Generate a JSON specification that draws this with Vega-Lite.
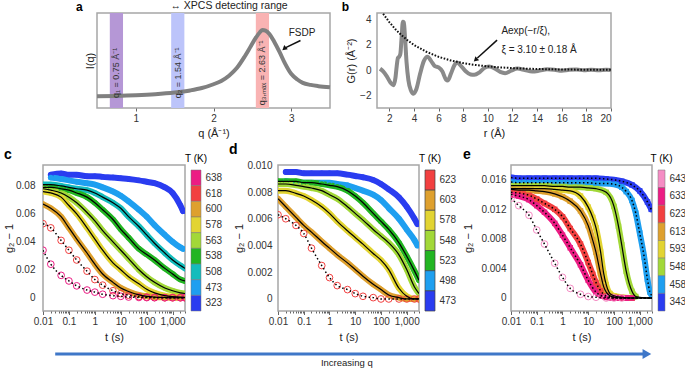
{
"$schema": "https://vega.github.io/schema/vega-lite/v6.json",
"padding": {"left": 2, "top": 0, "right": 0, "bottom": 0},
"autosize": {"type": "pad"},
"bounds": "flush",
"spacing": 152,
"resolve": {"scale": {"color": "independent"}},
"config": {
  "font": "Liberation Sans",
  "view": {"stroke": "#a6a6a6", "strokeWidth": 1.5},
  "axis": {"labelFontSize": 10, "titleFontSize": 11, "titleFontWeight": "normal", "labelColor": "#333", "titleColor": "#222", "tickColor": "#666", "domain": false, "grid": false, "tickSize": 3, "labelFont": "Liberation Sans", "titleFont": "Liberation Sans", "labelOverlap": false},
  "title": {"fontSize": 14, "fontWeight": "bold", "anchor": "start", "frame": "group", "baseline": "alphabetic", "offset": 3, "color": "#000", "font": "Liberation Sans"}
},
"datasets": {
  "sq": [{"q":0.5,"I":0.123},{"q":0.75,"I":0.127},{"q":1.0,"I":0.134},{"q":1.25,"I":0.145},{"q":1.5,"I":0.163},{"q":1.7,"I":0.185},{"q":1.85,"I":0.21},{"q":2.0,"I":0.25},{"q":2.1,"I":0.285},{"q":2.2,"I":0.34},{"q":2.3,"I":0.42},{"q":2.4,"I":0.54},{"q":2.48,"I":0.65},{"q":2.55,"I":0.745},{"q":2.6,"I":0.8},{"q":2.63,"I":0.822},{"q":2.67,"I":0.815},{"q":2.72,"I":0.78},{"q":2.78,"I":0.7},{"q":2.85,"I":0.59},{"q":2.92,"I":0.47},{"q":3.0,"I":0.36},{"q":3.08,"I":0.3},{"q":3.15,"I":0.265},{"q":3.25,"I":0.243},{"q":3.35,"I":0.23},{"q":3.5,"I":0.218}],
  "bands": [{"name":"q₁","q":0.75,"lo":0.665,"hi":0.835,"label":"q₁ = 0.75 Å⁻¹"},{"name":"q₂","q":1.54,"lo":1.455,"hi":1.625,"label":"q₂ = 1.54 Å⁻¹"},{"name":"q₃,ₘₐₓ","q":2.63,"lo":2.545,"hi":2.715,"label":"q₃,ₘₐₓ = 2.63 Å⁻¹"}],
  "gr": [{"r":1.25,"G":0.1},{"r":1.5,"G":-0.1},{"r":1.8,"G":-0.5},{"r":2.1,"G":-1.0},{"r":2.33,"G":-1.2},{"r":2.5,"G":-0.6},{"r":2.6,"G":0.3},{"r":2.7,"G":0.95},{"r":2.8,"G":1.05},{"r":2.9,"G":1.3},{"r":3.0,"G":2.6},{"r":3.1,"G":3.8},{"r":3.18,"G":3.75},{"r":3.28,"G":2.5},{"r":3.4,"G":0.6},{"r":3.55,"G":-0.8},{"r":3.75,"G":-1.6},{"r":3.96,"G":-1.87},{"r":4.2,"G":-1.5},{"r":4.5,"G":-0.3},{"r":4.8,"G":0.7},{"r":5.1,"G":1.05},{"r":5.4,"G":0.7},{"r":5.7,"G":0.3},{"r":6.0,"G":0.2},{"r":6.3,"G":-0.1},{"r":6.6,"G":-0.75},{"r":6.76,"G":-0.83},{"r":7.0,"G":-0.3},{"r":7.3,"G":0.4},{"r":7.5,"G":0.6},{"r":7.8,"G":0.35},{"r":8.2,"G":-0.1},{"r":8.6,"G":-0.35},{"r":8.9,"G":-0.38},{"r":9.3,"G":-0.2},{"r":9.7,"G":0.15},{"r":10.1,"G":0.27},{"r":10.5,"G":0.15},{"r":11.0,"G":-0.15},{"r":11.4,"G":-0.25},{"r":11.9,"G":-0.05},{"r":12.4,"G":0.11},{"r":13.0,"G":0.0},{"r":13.6,"G":-0.12},{"r":14.2,"G":-0.05},{"r":14.8,"G":0.05},{"r":15.4,"G":0.02},{"r":16.0,"G":-0.05},{"r":16.6,"G":0.02},{"r":17.2,"G":0.04},{"r":17.8,"G":-0.02},{"r":18.4,"G":0.02},{"r":19.0,"G":-0.01},{"r":19.6,"G":0.02},{"r":20.0,"G":0.0}],
  "fitexp": [{"r":1.5,"G":4.44},{"r":2,"G":3.78},{"r":2.5,"G":3.21},{"r":3,"G":2.74},{"r":3.5,"G":2.33},{"r":4,"G":1.98},{"r":5,"G":1.44},{"r":6,"G":1.04},{"r":7,"G":0.75},{"r":8,"G":0.545},{"r":9,"G":0.395},{"r":10,"G":0.286},{"r":11,"G":0.207},{"r":12,"G":0.15},{"r":13,"G":0.109},{"r":14,"G":0.079},{"r":15,"G":0.057},{"r":16,"G":0.041},{"r":17,"G":0.03},{"r":18,"G":0.022},{"r":19,"G":0.016},{"r":20,"G":0.011}],
  "c": [
{"T":323,"t":0.02,"g":0.088},{"T":323,"t":0.05,"g":0.089},{"T":323,"t":0.1,"g":0.088},{"T":323,"t":0.2,"g":0.088},{"T":323,"t":0.5,"g":0.087},{"T":323,"t":1,"g":0.087},{"T":323,"t":2,"g":0.0865},{"T":323,"t":5,"g":0.086},{"T":323,"t":10,"g":0.0855},{"T":323,"t":20,"g":0.085},{"T":323,"t":50,"g":0.084},{"T":323,"t":100,"g":0.083},{"T":323,"t":200,"g":0.082},{"T":323,"t":500,"g":0.079},{"T":323,"t":1000,"g":0.075},{"T":323,"t":2000,"g":0.066},{"T":323,"t":2500,"g":0.062},
{"T":473,"t":0.02,"g":0.086},{"T":473,"t":0.05,"g":0.085},{"T":473,"t":0.1,"g":0.084},{"T":473,"t":0.2,"g":0.083},{"T":473,"t":0.5,"g":0.082},{"T":473,"t":1,"g":0.081},{"T":473,"t":2,"g":0.079},{"T":473,"t":5,"g":0.076},{"T":473,"t":10,"g":0.073},{"T":473,"t":20,"g":0.069},{"T":473,"t":50,"g":0.063},{"T":473,"t":100,"g":0.058},{"T":473,"t":200,"g":0.052},{"T":473,"t":500,"g":0.045},{"T":473,"t":1000,"g":0.04},{"T":473,"t":2000,"g":0.036},{"T":473,"t":2500,"g":0.035},
{"T":508,"t":0.01,"g":0.081},{"T":508,"t":0.02,"g":0.081},{"T":508,"t":0.05,"g":0.08},{"T":508,"t":0.1,"g":0.079},{"T":508,"t":0.2,"g":0.078},{"T":508,"t":0.5,"g":0.077},{"T":508,"t":1,"g":0.075},{"T":508,"t":2,"g":0.072},{"T":508,"t":5,"g":0.068},{"T":508,"t":10,"g":0.064},{"T":508,"t":20,"g":0.058},{"T":508,"t":50,"g":0.051},{"T":508,"t":100,"g":0.045},{"T":508,"t":200,"g":0.039},{"T":508,"t":500,"g":0.032},{"T":508,"t":1000,"g":0.027},{"T":508,"t":2000,"g":0.023},{"T":508,"t":3000,"g":0.021},
{"T":538,"t":0.01,"g":0.079},{"T":538,"t":0.02,"g":0.079},{"T":538,"t":0.05,"g":0.078},{"T":538,"t":0.1,"g":0.077},{"T":538,"t":0.2,"g":0.075},{"T":538,"t":0.5,"g":0.072},{"T":538,"t":1,"g":0.068},{"T":538,"t":2,"g":0.063},{"T":538,"t":5,"g":0.056},{"T":538,"t":10,"g":0.049},{"T":538,"t":20,"g":0.043},{"T":538,"t":50,"g":0.035},{"T":538,"t":100,"g":0.031},{"T":538,"t":200,"g":0.027},{"T":538,"t":500,"g":0.021},{"T":538,"t":1000,"g":0.017},{"T":538,"t":2000,"g":0.013},{"T":538,"t":3000,"g":0.012},
{"T":563,"t":0.01,"g":0.078},{"T":563,"t":0.02,"g":0.077},{"T":563,"t":0.05,"g":0.075},{"T":563,"t":0.1,"g":0.072},{"T":563,"t":0.2,"g":0.068},{"T":563,"t":0.5,"g":0.061},{"T":563,"t":1,"g":0.055},{"T":563,"t":2,"g":0.048},{"T":563,"t":5,"g":0.04},{"T":563,"t":10,"g":0.034},{"T":563,"t":20,"g":0.028},{"T":563,"t":50,"g":0.02},{"T":563,"t":100,"g":0.015},{"T":563,"t":200,"g":0.011},{"T":563,"t":500,"g":0.007},{"T":563,"t":1000,"g":0.005},{"T":563,"t":2000,"g":0.0035},{"T":563,"t":3000,"g":0.003},
{"T":578,"t":0.01,"g":0.076},{"T":578,"t":0.02,"g":0.075},{"T":578,"t":0.05,"g":0.072},{"T":578,"t":0.1,"g":0.066},{"T":578,"t":0.2,"g":0.06},{"T":578,"t":0.5,"g":0.05},{"T":578,"t":1,"g":0.042},{"T":578,"t":2,"g":0.034},{"T":578,"t":5,"g":0.025},{"T":578,"t":10,"g":0.02},{"T":578,"t":20,"g":0.015},{"T":578,"t":50,"g":0.01},{"T":578,"t":100,"g":0.006},{"T":578,"t":200,"g":0.0035},{"T":578,"t":500,"g":0.0015},{"T":578,"t":1000,"g":0.0008},{"T":578,"t":2000,"g":0.0004},{"T":578,"t":3000,"g":0.0003},
{"T":600,"t":0.01,"g":0.067},{"T":600,"t":0.02,"g":0.064},{"T":600,"t":0.05,"g":0.058},{"T":600,"t":0.1,"g":0.05},{"T":600,"t":0.2,"g":0.042},{"T":600,"t":0.5,"g":0.032},{"T":600,"t":1,"g":0.024},{"T":600,"t":2,"g":0.017},{"T":600,"t":5,"g":0.011},{"T":600,"t":10,"g":0.007},{"T":600,"t":20,"g":0.0045},{"T":600,"t":50,"g":0.002},{"T":600,"t":100,"g":0.001},{"T":600,"t":200,"g":0.0005},{"T":600,"t":500,"g":0.0002},{"T":600,"t":1000,"g":0},{"T":600,"t":2000,"g":0},{"T":600,"t":3000,"g":0},
{"T":618,"t":0.01,"g":0.053},{"T":618,"t":0.02,"g":0.05},{"T":618,"t":0.05,"g":0.041},{"T":618,"t":0.1,"g":0.034},{"T":618,"t":0.2,"g":0.027},{"T":618,"t":0.5,"g":0.019},{"T":618,"t":1,"g":0.013},{"T":618,"t":2,"g":0.009},{"T":618,"t":5,"g":0.005},{"T":618,"t":10,"g":0.003},{"T":618,"t":20,"g":0.0018},{"T":618,"t":50,"g":0.0008},{"T":618,"t":100,"g":0.0004},{"T":618,"t":200,"g":0.0002},{"T":618,"t":500,"g":0},{"T":618,"t":1000,"g":0},{"T":618,"t":2000,"g":0},{"T":618,"t":3000,"g":0},
{"T":638,"t":0.01,"g":0.034},{"T":638,"t":0.02,"g":0.024},{"T":638,"t":0.05,"g":0.016},{"T":638,"t":0.1,"g":0.012},{"T":638,"t":0.2,"g":0.0085},{"T":638,"t":0.5,"g":0.0055},{"T":638,"t":1,"g":0.004},{"T":638,"t":2,"g":0.0025},{"T":638,"t":5,"g":0.0015},{"T":638,"t":10,"g":0.001},{"T":638,"t":20,"g":0.0005},{"T":638,"t":50,"g":0.0002},{"T":638,"t":100,"g":0.0001},{"T":638,"t":200,"g":0},{"T":638,"t":500,"g":0},{"T":638,"t":1000,"g":0},{"T":638,"t":2000,"g":0},{"T":638,"t":3000,"g":0}
  ],
  "d": [
{"T":473,"t":0.02,"g":0.0095},{"T":473,"t":0.05,"g":0.0095},{"T":473,"t":0.1,"g":0.0094},{"T":473,"t":0.2,"g":0.0094},{"T":473,"t":0.5,"g":0.0094},{"T":473,"t":1,"g":0.0094},{"T":473,"t":2,"g":0.0094},{"T":473,"t":5,"g":0.0093},{"T":473,"t":10,"g":0.0092},{"T":473,"t":20,"g":0.0091},{"T":473,"t":50,"g":0.0089},{"T":473,"t":100,"g":0.0086},{"T":473,"t":200,"g":0.0082},{"T":473,"t":500,"g":0.0076},{"T":473,"t":1000,"g":0.0069},{"T":473,"t":2000,"g":0.006},{"T":473,"t":2600,"g":0.0056},
{"T":498,"t":0.02,"g":0.0088},{"T":498,"t":0.05,"g":0.0087},{"T":498,"t":0.1,"g":0.0087},{"T":498,"t":0.2,"g":0.0087},{"T":498,"t":0.5,"g":0.0087},{"T":498,"t":1,"g":0.0087},{"T":498,"t":2,"g":0.0086},{"T":498,"t":5,"g":0.0085},{"T":498,"t":10,"g":0.0083},{"T":498,"t":20,"g":0.0081},{"T":498,"t":50,"g":0.0078},{"T":498,"t":100,"g":0.0074},{"T":498,"t":200,"g":0.0068},{"T":498,"t":500,"g":0.006},{"T":498,"t":1000,"g":0.0052},{"T":498,"t":2000,"g":0.0044},{"T":498,"t":2600,"g":0.004},
{"T":523,"t":0.01,"g":0.0088},{"T":523,"t":0.02,"g":0.0088},{"T":523,"t":0.05,"g":0.0088},{"T":523,"t":0.1,"g":0.0087},{"T":523,"t":0.2,"g":0.0087},{"T":523,"t":0.5,"g":0.0086},{"T":523,"t":1,"g":0.0085},{"T":523,"t":2,"g":0.0084},{"T":523,"t":5,"g":0.0081},{"T":523,"t":10,"g":0.0077},{"T":523,"t":20,"g":0.0072},{"T":523,"t":50,"g":0.0064},{"T":523,"t":100,"g":0.0058},{"T":523,"t":200,"g":0.0052},{"T":523,"t":500,"g":0.0042},{"T":523,"t":1000,"g":0.0032},{"T":523,"t":2000,"g":0.0021},{"T":523,"t":3000,"g":0.0014},
{"T":548,"t":0.01,"g":0.0086},{"T":548,"t":0.02,"g":0.0086},{"T":548,"t":0.05,"g":0.0085},{"T":548,"t":0.1,"g":0.0084},{"T":548,"t":0.2,"g":0.0083},{"T":548,"t":0.5,"g":0.0081},{"T":548,"t":1,"g":0.0078},{"T":548,"t":2,"g":0.0075},{"T":548,"t":5,"g":0.0069},{"T":548,"t":10,"g":0.0064},{"T":548,"t":20,"g":0.0059},{"T":548,"t":50,"g":0.0052},{"T":548,"t":100,"g":0.0047},{"T":548,"t":200,"g":0.0042},{"T":548,"t":500,"g":0.0033},{"T":548,"t":1000,"g":0.0022},{"T":548,"t":2000,"g":0.0009},{"T":548,"t":3000,"g":0.0004},
{"T":578,"t":0.01,"g":0.0081},{"T":578,"t":0.02,"g":0.0081},{"T":578,"t":0.05,"g":0.0079},{"T":578,"t":0.1,"g":0.0077},{"T":578,"t":0.2,"g":0.0074},{"T":578,"t":0.5,"g":0.0069},{"T":578,"t":1,"g":0.0064},{"T":578,"t":2,"g":0.0058},{"T":578,"t":5,"g":0.0051},{"T":578,"t":10,"g":0.0046},{"T":578,"t":20,"g":0.0041},{"T":578,"t":50,"g":0.0034},{"T":578,"t":100,"g":0.0029},{"T":578,"t":200,"g":0.0022},{"T":578,"t":500,"g":0.0008},{"T":578,"t":1000,"g":0.0002},{"T":578,"t":2000,"g":0},{"T":578,"t":3000,"g":0},
{"T":603,"t":0.01,"g":0.0075},{"T":603,"t":0.02,"g":0.0069},{"T":603,"t":0.05,"g":0.0061},{"T":603,"t":0.1,"g":0.0055},{"T":603,"t":0.2,"g":0.005},{"T":603,"t":0.5,"g":0.0043},{"T":603,"t":1,"g":0.0038},{"T":603,"t":2,"g":0.0033},{"T":603,"t":5,"g":0.0027},{"T":603,"t":10,"g":0.0022},{"T":603,"t":20,"g":0.0017},{"T":603,"t":50,"g":0.0011},{"T":603,"t":100,"g":0.0007},{"T":603,"t":200,"g":0.0003},{"T":603,"t":500,"g":0.0001},{"T":603,"t":1000,"g":0},{"T":603,"t":2000,"g":0},{"T":603,"t":3000,"g":0},
{"T":623,"t":0.01,"g":0.0063},{"T":623,"t":0.02,"g":0.006},{"T":623,"t":0.05,"g":0.0055},{"T":623,"t":0.1,"g":0.0049},{"T":623,"t":0.2,"g":0.0038},{"T":623,"t":0.5,"g":0.0025},{"T":623,"t":1,"g":0.0016},{"T":623,"t":2,"g":0.001},{"T":623,"t":5,"g":0.0007},{"T":623,"t":10,"g":0.0004},{"T":623,"t":20,"g":0.0002},{"T":623,"t":50,"g":0.0001},{"T":623,"t":100,"g":0},{"T":623,"t":200,"g":0},{"T":623,"t":500,"g":0},{"T":623,"t":1000,"g":0},{"T":623,"t":2000,"g":0},{"T":623,"t":3000,"g":0}
  ],
  "e": [
{"T":343,"t":0.01,"g":0.0163},{"T":343,"t":0.02,"g":0.0162},{"T":343,"t":0.05,"g":0.0162},{"T":343,"t":0.1,"g":0.0162},{"T":343,"t":0.2,"g":0.0162},{"T":343,"t":0.5,"g":0.0162},{"T":343,"t":1,"g":0.0162},{"T":343,"t":2,"g":0.0162},{"T":343,"t":5,"g":0.0162},{"T":343,"t":10,"g":0.0162},{"T":343,"t":20,"g":0.0162},{"T":343,"t":50,"g":0.0161},{"T":343,"t":100,"g":0.016},{"T":343,"t":200,"g":0.0158},{"T":343,"t":500,"g":0.0153},{"T":343,"t":1000,"g":0.0145},{"T":343,"t":2000,"g":0.013},{"T":343,"t":2800,"g":0.012},
{"T":458,"t":0.01,"g":0.0157},{"T":458,"t":0.02,"g":0.0156},{"T":458,"t":0.05,"g":0.0156},{"T":458,"t":0.1,"g":0.0156},{"T":458,"t":0.2,"g":0.0156},{"T":458,"t":0.5,"g":0.0156},{"T":458,"t":1,"g":0.0156},{"T":458,"t":2,"g":0.0156},{"T":458,"t":5,"g":0.0156},{"T":458,"t":10,"g":0.0156},{"T":458,"t":20,"g":0.0155},{"T":458,"t":50,"g":0.0155},{"T":458,"t":100,"g":0.0154},{"T":458,"t":200,"g":0.015},{"T":458,"t":300,"g":0.0144},{"T":458,"t":500,"g":0.0132},{"T":458,"t":700,"g":0.0115},{"T":458,"t":1000,"g":0.0088},{"T":458,"t":1500,"g":0.0055},{"T":458,"t":2000,"g":0.0025},{"T":458,"t":2500,"g":0.0008},{"T":458,"t":3000,"g":0.0003},
{"T":548,"t":0.01,"g":0.0152},{"T":548,"t":0.02,"g":0.0152},{"T":548,"t":0.05,"g":0.0152},{"T":548,"t":0.1,"g":0.0152},{"T":548,"t":0.2,"g":0.0152},{"T":548,"t":0.5,"g":0.0151},{"T":548,"t":1,"g":0.0151},{"T":548,"t":2,"g":0.015},{"T":548,"t":5,"g":0.015},{"T":548,"t":10,"g":0.0149},{"T":548,"t":20,"g":0.0148},{"T":548,"t":50,"g":0.0143},{"T":548,"t":100,"g":0.0124},{"T":548,"t":150,"g":0.0097},{"T":548,"t":200,"g":0.0072},{"T":548,"t":300,"g":0.0036},{"T":548,"t":500,"g":0.0009},{"T":548,"t":700,"g":0.0002},{"T":548,"t":1000,"g":0.0001},{"T":548,"t":2000,"g":0},{"T":548,"t":3000,"g":0},
{"T":593,"t":0.01,"g":0.0148},{"T":593,"t":0.02,"g":0.0148},{"T":593,"t":0.05,"g":0.0148},{"T":593,"t":0.1,"g":0.0148},{"T":593,"t":0.2,"g":0.0148},{"T":593,"t":0.5,"g":0.0147},{"T":593,"t":1,"g":0.0146},{"T":593,"t":2,"g":0.0145},{"T":593,"t":5,"g":0.0138},{"T":593,"t":10,"g":0.0123},{"T":593,"t":15,"g":0.0109},{"T":593,"t":20,"g":0.0095},{"T":593,"t":30,"g":0.0063},{"T":593,"t":40,"g":0.0033},{"T":593,"t":50,"g":0.0018},{"T":593,"t":70,"g":0.0006},{"T":593,"t":100,"g":0.0003},{"T":593,"t":200,"g":0.0001},{"T":593,"t":500,"g":0},{"T":593,"t":1000,"g":0},{"T":593,"t":2000,"g":0},{"T":593,"t":3000,"g":0},
{"T":613,"t":0.01,"g":0.0147},{"T":613,"t":0.02,"g":0.0146},{"T":613,"t":0.05,"g":0.0146},{"T":613,"t":0.1,"g":0.0145},{"T":613,"t":0.2,"g":0.0144},{"T":613,"t":0.5,"g":0.0141},{"T":613,"t":1,"g":0.0137},{"T":613,"t":2,"g":0.0131},{"T":613,"t":5,"g":0.0118},{"T":613,"t":10,"g":0.0098},{"T":613,"t":15,"g":0.0078},{"T":613,"t":20,"g":0.0062},{"T":613,"t":30,"g":0.0033},{"T":613,"t":40,"g":0.0015},{"T":613,"t":50,"g":0.0008},{"T":613,"t":70,"g":0.0003},{"T":613,"t":100,"g":0.0001},{"T":613,"t":200,"g":0},{"T":613,"t":500,"g":0},{"T":613,"t":1000,"g":0},{"T":613,"t":2000,"g":0},{"T":613,"t":3000,"g":0},
{"T":623,"t":0.01,"g":0.0143},{"T":623,"t":0.02,"g":0.0142},{"T":623,"t":0.05,"g":0.0139},{"T":623,"t":0.1,"g":0.0134},{"T":623,"t":0.2,"g":0.0128},{"T":623,"t":0.5,"g":0.012},{"T":623,"t":1,"g":0.011},{"T":623,"t":2,"g":0.0094},{"T":623,"t":5,"g":0.0073},{"T":623,"t":10,"g":0.0048},{"T":623,"t":15,"g":0.0032},{"T":623,"t":20,"g":0.0021},{"T":623,"t":30,"g":0.001},{"T":623,"t":50,"g":0.0003},{"T":623,"t":100,"g":0.0001},{"T":623,"t":200,"g":0},{"T":623,"t":500,"g":0},{"T":623,"t":1000,"g":0},{"T":623,"t":2000,"g":0},{"T":623,"t":3000,"g":0},
{"T":633,"t":0.01,"g":0.014},{"T":633,"t":0.02,"g":0.0138},{"T":633,"t":0.05,"g":0.0133},{"T":633,"t":0.1,"g":0.0125},{"T":633,"t":0.2,"g":0.0116},{"T":633,"t":0.5,"g":0.0101},{"T":633,"t":1,"g":0.0085},{"T":633,"t":2,"g":0.0068},{"T":633,"t":5,"g":0.0045},{"T":633,"t":10,"g":0.0024},{"T":633,"t":20,"g":0.0008},{"T":633,"t":50,"g":0.0001},{"T":633,"t":100,"g":0},{"T":633,"t":200,"g":0},{"T":633,"t":500,"g":0},{"T":633,"t":1000,"g":0},{"T":633,"t":2000,"g":0},{"T":633,"t":3000,"g":0},
{"T":643,"t":0.01,"g":0.0135},{"T":643,"t":0.02,"g":0.0125},{"T":643,"t":0.05,"g":0.0112},{"T":643,"t":0.1,"g":0.0092},{"T":643,"t":0.2,"g":0.0073},{"T":643,"t":0.5,"g":0.0047},{"T":643,"t":1,"g":0.0028},{"T":643,"t":2,"g":0.0013},{"T":643,"t":5,"g":0.0005},{"T":643,"t":10,"g":0.0002},{"T":643,"t":20,"g":0.0001},{"T":643,"t":50,"g":0},{"T":643,"t":100,"g":0},{"T":643,"t":200,"g":0},{"T":643,"t":500,"g":0},{"T":643,"t":1000,"g":0},{"T":643,"t":2000,"g":0},{"T":643,"t":3000,"g":0}
  ]
},
"vconcat": [
  {
    "bounds": "flush",
    "spacing": 47,
    "resolve": {"scale": {"color": "independent"}},
    "hconcat": [
      {"width": 7, "height": 95, "data": {"values": []}, "mark": "point", "view": {"stroke": null}},
      {
        "width": 233, "height": 95,
        "layer": [
          {"data": {"name": "bands"}, "mark": {"type": "rect"},
           "encoding": {
             "x": {"field": "lo", "type": "quantitative", "scale": {"domain": [0.5, 3.5], "nice": false, "zero": false}, "axis": {"title": "q (Å⁻¹)", "values": [1, 2, 3], "format": "d", "tickSize": 3, "labelPadding": 2, "titlePadding": 4, "labelOverlap": false}},
             "x2": {"field": "hi"},
             "color": {"field": "name", "type": "nominal", "scale": {"domain": ["q₁", "q₂", "q₃,ₘₐₓ"], "range": ["#b597d6", "#bcc4fa", "#f9b3b3"]}, "legend": null}}},
          {"data": {"name": "sq"}, "mark": {"type": "line", "color": "#808080", "strokeWidth": 4, "interpolate": "monotone"},
           "encoding": {
             "x": {"field": "q", "type": "quantitative"},
             "y": {"field": "I", "type": "quantitative", "scale": {"domain": [0, 1], "nice": false}, "axis": {"title": "I(q)", "labels": false, "ticks": false, "titlePadding": 2}}}},
          {"data": {"name": "bands"}, "mark": {"type": "text", "angle": 270, "align": "center", "baseline": "middle", "fontSize": 9, "color": "#333"},
           "encoding": {"x": {"field": "q", "type": "quantitative"}, "y": {"datum": 0.37}, "text": {"field": "label"}}},
          {"data": {"values": [{"label": "FSDP"}]}, "mark": {"type": "text", "fontSize": 10, "color": "#222"},
           "encoding": {"x": {"datum": 3.14}, "y": {"datum": 0.79}, "text": {"field": "label"}}},
          {"data": {"values": [{"label": "FSDP"}]}, "mark": {"type": "rule", "color": "#111", "strokeWidth": 1.5},
           "encoding": {"x": {"datum": 3.12}, "y": {"datum": 0.71}, "x2": {"datum": 2.93}, "y2": {"datum": 0.635}}},
          {"data": {"values": [{"label": "FSDP"}]}, "mark": {"type": "point", "shape": "triangle-up", "filled": true, "size": 30, "angle": 230, "color": "#111", "opacity": 1},
           "encoding": {"x": {"datum": 2.91}, "y": {"datum": 0.625}}},
          {"data": {"values": [{"label": "↔ XPCS detecting range"}]}, "mark": {"type": "text", "fontSize": 10.5, "color": "#222"},
           "encoding": {"x": {"datum": 2.2}, "y": {"datum": 1.075}, "text": {"field": "label"}}},
          {"data": {"values": [{"label": "a"}]}, "mark": {"type": "text", "align": "left", "baseline": "alphabetic", "fontSize": 12, "fontWeight": "bold", "color": "#000"},
           "encoding": {"x": {"datum": 0.23}, "y": {"datum": 1.021}, "text": {"field": "label"}}}
        ]
      },
      {
        "width": 234, "height": 95,
        "resolve": {"axis": {"x": "independent", "y": "independent"}},
        "layer": [
          {"data": {"name": "gr"}, "mark": {"type": "line", "color": "#8a8a8a", "strokeWidth": 4, "interpolate": "monotone", "clip": true},
           "encoding": {
             "x": {"field": "r", "type": "quantitative", "scale": {"domain": [1, 20], "nice": false, "zero": false}, "axis": {"orient": "bottom", "title": "r (Å)", "values": [2, 6, 10, 14, 18], "format": "d", "tickSize": 3, "labelPadding": 2, "titlePadding": 4, "labelOverlap": false}},
             "y": {"field": "G", "type": "quantitative", "scale": {"domain": [-3, 4.5], "nice": false, "zero": false}, "axis": {"orient": "left", "title": "G(r) (Å⁻²)", "values": [-2, 2], "ticks": false, "labelPadding": 6, "titlePadding": 3, "labelOverlap": false}}}},
          {"data": {"name": "fitexp"}, "mark": {"type": "line", "color": "#111", "strokeWidth": 2, "strokeDash": [1.6, 1.6], "clip": true},
           "encoding": {
             "x": {"field": "r", "type": "quantitative", "scale": {"domain": [1, 20], "nice": false, "zero": false}, "axis": {"orient": "bottom", "title": null, "values": [4, 8, 12, 16, 20], "format": "d", "tickSize": 3, "labelPadding": 2, "labelOverlap": false}},
             "y": {"field": "G", "type": "quantitative", "scale": {"domain": [-3, 4.5], "nice": false, "zero": false}, "axis": {"orient": "left", "title": null, "values": [0, 4], "ticks": false, "labelPadding": 6, "labelOverlap": false}}}},
          {"data": {"values": [{"label": "Aexp(−r/ξ),"}]}, "mark": {"type": "text", "align": "left", "baseline": "middle", "fontSize": 10, "color": "#222"},
           "encoding": {"x": {"datum": 11.1, "axis": null}, "y": {"datum": 3.04, "axis": null}, "text": {"field": "label"}}},
          {"data": {"values": [{"label": "ξ = 3.10 ± 0.18 Å"}]}, "mark": {"type": "text", "align": "left", "baseline": "middle", "fontSize": 10, "color": "#222"},
           "encoding": {"x": {"datum": 11.1, "axis": null}, "y": {"datum": 1.55, "axis": null}, "text": {"field": "label"}}},
          {"data": {"values": [{"label": "arrow"}]}, "mark": {"type": "rule", "color": "#111", "strokeWidth": 1.5},
           "encoding": {"x": {"datum": 10.75, "axis": null}, "y": {"datum": 2.36, "axis": null}, "x2": {"datum": 9.15}, "y2": {"datum": 0.95}}},
          {"data": {"values": [{"label": "arrow"}]}, "mark": {"type": "point", "shape": "triangle-up", "filled": true, "size": 30, "angle": 227, "color": "#111", "opacity": 1},
           "encoding": {"x": {"datum": 9.0, "axis": null}, "y": {"datum": 0.8, "axis": null}}},
          {"data": {"values": [{"label": "b"}]}, "mark": {"type": "text", "align": "left", "baseline": "alphabetic", "fontSize": 12, "fontWeight": "bold", "color": "#000"},
           "encoding": {"x": {"datum": -1.855, "axis": null}, "y": {"datum": 4.658, "axis": null}, "text": {"field": "label"}}}
        ]
      }
    ]
  },
  {
    "bounds": "flush",
    "spacing": 6,
    "resolve": {"scale": {"color": "independent"}},
    "hconcat": [
      {
        "width": 142, "height": 146,
        "title": {"text": "c", "dx": -39},
        "data": {"name": "c"},
        "resolve": {"axis": {"x": "independent"}},
        "encoding": {
          "x": {"field": "t", "type": "quantitative", "scale": {"type": "log", "domain": [0.01, 3000], "nice": false}, "axis": null},
          "y": {"field": "g", "type": "quantitative", "scale": {"domain": [-0.0095, 0.095], "nice": false, "zero": false}, "axis": {"title": "g₂ − 1", "values": [0, 0.02, 0.04, 0.06, 0.08], "labelExpr": "datum.value == 0 ? '0' : format(datum.value, '.2f')", "ticks": false, "labelPadding": 8, "titlePadding": 1}},
          "color": {"field": "T", "type": "ordinal", "scale": {"domain": [638, 618, 600, 578, 563, 538, 508, 473, 323], "range": ["#ec1c84", "#f24040", "#dea02e", "#e2d432", "#a2d838", "#22b522", "#15bcbc", "#1e9ff0", "#2a3cf0"]}, "legend": null}
        },
        "layer": [
          {"transform": [{"filter": {"not": {"field": "T", "oneOf": [618, 638]}}}],
           "mark": {"type": "line", "strokeWidth": 6, "interpolate": "monotone", "clip": true, "strokeCap": "round"},
           "encoding": {"x": {"field": "t", "type": "quantitative", "scale": {"type": "log", "domain": [0.01, 3000], "nice": false}, "axis": {"orient": "bottom", "values": [0.01, 0.1, 1, 10, 100, 1000], "format": ",", "title": "t (s)", "tickSize": 3.5, "labelPadding": 2, "titlePadding": 5, "labelFlush": false}}}},
          {"transform": [{"filter": {"not": {"field": "T", "oneOf": [618, 638]}}}],
           "mark": {"type": "point", "filled": true, "size": 30, "opacity": 1, "clip": true}},
          {"transform": [{"filter": {"field": "T", "oneOf": [618, 638]}}],
           "mark": {"type": "point", "filled": false, "size": 45, "strokeWidth": 1, "opacity": 1, "clip": true}},
          {"transform": [{"filter": {"field": "T", "oneOf": [508, 538, 563, 578, 600]}}],
           "mark": {"type": "line", "strokeWidth": 1.2, "interpolate": "monotone", "clip": true},
           "encoding": {"color": {"value": "#000"}, "detail": {"field": "T", "type": "ordinal"}}},
          {"transform": [{"filter": {"field": "T", "oneOf": [618, 638]}}],
           "mark": {"type": "line", "strokeWidth": 1.5, "strokeDash": [1.5, 2.5], "interpolate": "monotone", "clip": true},
           "encoding": {"color": {"value": "#000"}, "detail": {"field": "T", "type": "ordinal"}}},
          {"data": {"values": [{"label": "q₁ = 0.75 Å⁻¹"}]},
           "mark": {"type": "text", "align": "left", "baseline": "middle", "fontSize": 9},
           "encoding": {"x": {"datum": 0.0105, "type": "quantitative", "scale": {"type": "log", "domain": [0.01, 3000], "nice": false}, "axis": {"orient": "bottom", "values": [0.02,0.03,0.04,0.05,0.06,0.07,0.08,0.09,0.2,0.3,0.4,0.5,0.6,0.7,0.8,0.9,2,3,4,5,6,7,8,9,20,30,40,50,60,70,80,90,200,300,400,500,600,700,800,900,2000,3000], "labels": false, "tickSize": 2, "title": null}}, "y": {"datum": -0.0038, "type": "quantitative"}, "text": {"field": "label"}, "color": {"value": "#222"}}}
        ]
      },
      {
        "width": 10, "height": 146,
        "data": {"values": [{"T": 638}, {"T": 618}, {"T": 600}, {"T": 578}, {"T": 563}, {"T": 538}, {"T": 508}, {"T": 473}, {"T": 323}]},
        "title": {"text": "T (K)", "fontSize": 10, "fontWeight": "normal", "anchor": "middle", "offset": 1},
        "view": {"stroke": null},
        "mark": {"type": "rect", "stroke": "#777", "strokeWidth": 0.5},
        "encoding": {
          "y": {"field": "T", "type": "ordinal", "scale": {"domain": [638, 618, 600, 578, 563, 538, 508, 473, 323], "range": [5, 146], "paddingInner": 0, "paddingOuter": 0}, "axis": {"orient": "right", "domain": false, "ticks": false, "labelPadding": 4, "title": null}},
          "color": {"field": "T", "type": "ordinal", "scale": {"domain": [638, 618, 600, 578, 563, 538, 508, 473, 323], "range": ["#ec1c84", "#f24040", "#dea02e", "#e2d432", "#a2d838", "#22b522", "#15bcbc", "#1e9ff0", "#2a3cf0"]}, "legend": null}
        }
      },
      {"width": 65, "height": 10, "data": {"values": []}, "mark": "point", "view": {"stroke": null}},
      {
        "width": 141, "height": 146,
        "title": {"text": "d", "dx": -49},
        "data": {"name": "d"},
        "resolve": {"axis": {"x": "independent"}},
        "encoding": {
          "x": {"field": "t", "type": "quantitative", "scale": {"type": "log", "domain": [0.01, 3000], "nice": false}, "axis": null},
          "y": {"field": "g", "type": "quantitative", "scale": {"domain": [-0.0009, 0.01002], "nice": false, "zero": false}, "axis": {"title": "g₂ − 1", "values": [0, 0.002, 0.004, 0.006, 0.008, 0.01], "labelExpr": "datum.value == 0 ? '0' : format(datum.value, '.3f')", "ticks": false, "labelPadding": 6, "titlePadding": 2}},
          "color": {"field": "T", "type": "ordinal", "scale": {"domain": [623, 603, 578, 548, 523, 498, 473], "range": ["#f24040", "#dea02e", "#e2d432", "#a2d838", "#22b522", "#1e9ff0", "#2a3cf0"]}, "legend": null}
        },
        "layer": [
          {"transform": [{"filter": {"not": {"field": "T", "oneOf": [623]}}}],
           "mark": {"type": "line", "strokeWidth": 6, "interpolate": "monotone", "clip": true, "strokeCap": "round"},
           "encoding": {"x": {"field": "t", "type": "quantitative", "scale": {"type": "log", "domain": [0.01, 3000], "nice": false}, "axis": {"orient": "bottom", "values": [0.01, 0.1, 1, 10, 100, 1000], "format": ",", "title": "t (s)", "tickSize": 3.5, "labelPadding": 2, "titlePadding": 5, "labelFlush": false}}}},
          {"transform": [{"filter": {"not": {"field": "T", "oneOf": [623]}}}],
           "mark": {"type": "point", "filled": true, "size": 30, "opacity": 1, "clip": true}},
          {"transform": [{"filter": {"field": "T", "oneOf": [623]}}],
           "mark": {"type": "point", "filled": false, "size": 45, "strokeWidth": 1, "opacity": 1, "clip": true}},
          {"transform": [{"filter": {"field": "T", "oneOf": [523, 548, 578, 603]}}],
           "mark": {"type": "line", "strokeWidth": 1.2, "interpolate": "monotone", "clip": true},
           "encoding": {"color": {"value": "#000"}, "detail": {"field": "T", "type": "ordinal"}}},
          {"transform": [{"filter": {"field": "T", "oneOf": [623]}}],
           "mark": {"type": "line", "strokeWidth": 1.5, "strokeDash": [1.5, 2.5], "interpolate": "monotone", "clip": true},
           "encoding": {"color": {"value": "#000"}, "detail": {"field": "T", "type": "ordinal"}}},
          {"data": {"values": [{"label": "q₂ = 1.54 Å⁻¹"}]},
           "mark": {"type": "text", "align": "left", "baseline": "middle", "fontSize": 9},
           "encoding": {"x": {"datum": 0.0105, "type": "quantitative", "scale": {"type": "log", "domain": [0.01, 3000], "nice": false}, "axis": {"orient": "bottom", "values": [0.02,0.03,0.04,0.05,0.06,0.07,0.08,0.09,0.2,0.3,0.4,0.5,0.6,0.7,0.8,0.9,2,3,4,5,6,7,8,9,20,30,40,50,60,70,80,90,200,300,400,500,600,700,800,900,2000,3000], "labels": false, "tickSize": 2, "title": null}}, "y": {"datum": 0.00045, "type": "quantitative"}, "text": {"field": "label"}, "color": {"value": "#222"}}}
        ]
      },
      {
        "width": 10, "height": 146,
        "data": {"values": [{"T": 623}, {"T": 603}, {"T": 578}, {"T": 548}, {"T": 523}, {"T": 498}, {"T": 473}]},
        "title": {"text": "T (K)", "fontSize": 10, "fontWeight": "normal", "anchor": "middle", "offset": 1},
        "view": {"stroke": null},
        "mark": {"type": "rect", "stroke": "#444", "strokeWidth": 0.7},
        "encoding": {
          "y": {"field": "T", "type": "ordinal", "scale": {"domain": [623, 603, 578, 548, 523, 498, 473], "range": [5, 146], "paddingInner": 0, "paddingOuter": 0}, "axis": {"orient": "right", "domain": false, "ticks": false, "labelPadding": 4, "title": null}},
          "color": {"field": "T", "type": "ordinal", "scale": {"domain": [623, 603, 578, 548, 523, 498, 473], "range": ["#f24040", "#dea02e", "#e2d432", "#a2d838", "#22b522", "#1e9ff0", "#2a3cf0"]}, "legend": null}
        }
      },
      {"width": 64, "height": 10, "data": {"values": []}, "mark": "point", "view": {"stroke": null}},
      {
        "width": 141, "height": 146,
        "title": {"text": "e", "dx": -48},
        "data": {"name": "e"},
        "resolve": {"axis": {"x": "independent"}},
        "encoding": {
          "x": {"field": "t", "type": "quantitative", "scale": {"type": "log", "domain": [0.01, 3000], "nice": false}, "axis": null},
          "y": {"field": "g", "type": "quantitative", "scale": {"domain": [-0.00176, 0.018], "nice": false, "zero": false}, "axis": {"title": "g₂ − 1", "values": [0, 0.004, 0.008, 0.012, 0.016], "labelExpr": "datum.value == 0 ? '0' : format(datum.value, '.3f')", "ticks": false, "labelPadding": 5, "titlePadding": 7}},
          "color": {"field": "T", "type": "ordinal", "scale": {"domain": [643, 633, 623, 613, 593, 548, 458, 343], "range": ["#f58cc4", "#ec1c84", "#f24040", "#dea02e", "#e2d432", "#a2d838", "#1e9ff0", "#2a3cf0"]}, "legend": null}
        },
        "layer": [
          {"transform": [{"filter": "datum.T != 643 && (datum.t <= 700 || datum.T == 343 || datum.T == 458)"}],
           "mark": {"type": "line", "strokeWidth": 6, "interpolate": "monotone", "clip": true, "strokeCap": "round"},
           "encoding": {"x": {"field": "t", "type": "quantitative", "scale": {"type": "log", "domain": [0.01, 3000], "nice": false}, "axis": {"orient": "bottom", "values": [0.01, 0.1, 1, 10, 100, 1000], "format": ",", "title": "t (s)", "tickSize": 3.5, "labelPadding": 2, "titlePadding": 5, "labelFlush": false}}}},
          {"transform": [{"filter": "datum.T != 643 && (datum.t <= 700 || datum.T == 343 || datum.T == 458)"}],
           "mark": {"type": "point", "shape": "square", "filled": true, "size": 30, "opacity": 1, "clip": true}},
          {"transform": [{"filter": "datum.T == 643 && datum.t <= 300"}],
           "mark": {"type": "point", "filled": false, "size": 45, "strokeWidth": 1, "opacity": 1, "clip": true}},
          {"transform": [{"filter": {"field": "T", "oneOf": [548, 593, 613]}}],
           "mark": {"type": "line", "strokeWidth": 1.2, "interpolate": "monotone", "clip": true},
           "encoding": {"color": {"value": "#000"}, "detail": {"field": "T", "type": "ordinal"}}},
          {"transform": [{"filter": {"field": "T", "oneOf": [643, 633, 623, 458, 343]}}],
           "mark": {"type": "line", "strokeWidth": 1.5, "strokeDash": [1.5, 2.5], "interpolate": "monotone", "clip": true},
           "encoding": {"color": {"value": "#000"}, "detail": {"field": "T", "type": "ordinal"}}},
          {"data": {"values": [{"label": "q₃,ₘₐₓ = 2.63Å⁻¹"}]},
           "mark": {"type": "text", "align": "left", "baseline": "middle", "fontSize": 9},
           "encoding": {"x": {"datum": 0.0105, "type": "quantitative", "scale": {"type": "log", "domain": [0.01, 3000], "nice": false}, "axis": {"orient": "bottom", "values": [0.02,0.03,0.04,0.05,0.06,0.07,0.08,0.09,0.2,0.3,0.4,0.5,0.6,0.7,0.8,0.9,2,3,4,5,6,7,8,9,20,30,40,50,60,70,80,90,200,300,400,500,600,700,800,900,2000,3000], "labels": false, "tickSize": 2, "title": null}}, "y": {"datum": -0.0006, "type": "quantitative"}, "text": {"field": "label"}, "color": {"value": "#222"}}}
        ]
      },
      {
        "width": 7, "height": 146,
        "data": {"values": [{"T": 643}, {"T": 633}, {"T": 623}, {"T": 613}, {"T": 593}, {"T": 548}, {"T": 458}, {"T": 343}]},
        "title": {"text": "T (K)", "fontSize": 10, "fontWeight": "normal", "anchor": "middle", "offset": 1},
        "view": {"stroke": null},
        "mark": {"type": "rect", "stroke": "#777", "strokeWidth": 0.5},
        "encoding": {
          "y": {"field": "T", "type": "ordinal", "scale": {"domain": [643, 633, 623, 613, 593, 548, 458, 343], "range": [5, 146], "paddingInner": 0, "paddingOuter": 0}, "axis": {"orient": "right", "domain": false, "ticks": false, "labelPadding": 4, "title": null}},
          "color": {"field": "T", "type": "ordinal", "scale": {"domain": [643, 633, 623, 613, 593, 548, 458, 343], "range": ["#f58cc4", "#ec1c84", "#f24040", "#dea02e", "#e2d432", "#a2d838", "#1e9ff0", "#2a3cf0"]}, "legend": null}
        }
      }
    ]
  },
  {
    "width": 610, "height": 50,
    "view": {"stroke": null},
    "data": {"values": [{"label": "Increasing q"}]},
    "layer": [
      {"mark": {"type": "rule", "color": "#3f77c8", "strokeWidth": 3},
       "encoding": {"x": {"datum": 0.02, "type": "quantitative", "scale": {"domain": [0, 1]}, "axis": null}, "x2": {"datum": 0.985}, "y": {"datum": 0.26, "type": "quantitative", "scale": {"domain": [0, 1]}, "axis": null}}},
      {"mark": {"type": "point", "shape": "triangle-right", "filled": true, "size": 100, "color": "#3f77c8", "opacity": 1},
       "encoding": {"x": {"datum": 0.99, "type": "quantitative"}, "y": {"datum": 0.26, "type": "quantitative"}}},
      {"mark": {"type": "text", "fontSize": 9.5, "dy": 9, "color": "#222"},
       "encoding": {"x": {"datum": 0.498, "type": "quantitative"}, "y": {"datum": 0.26, "type": "quantitative"}, "text": {"field": "label"}}}
    ]
  }
]
}
